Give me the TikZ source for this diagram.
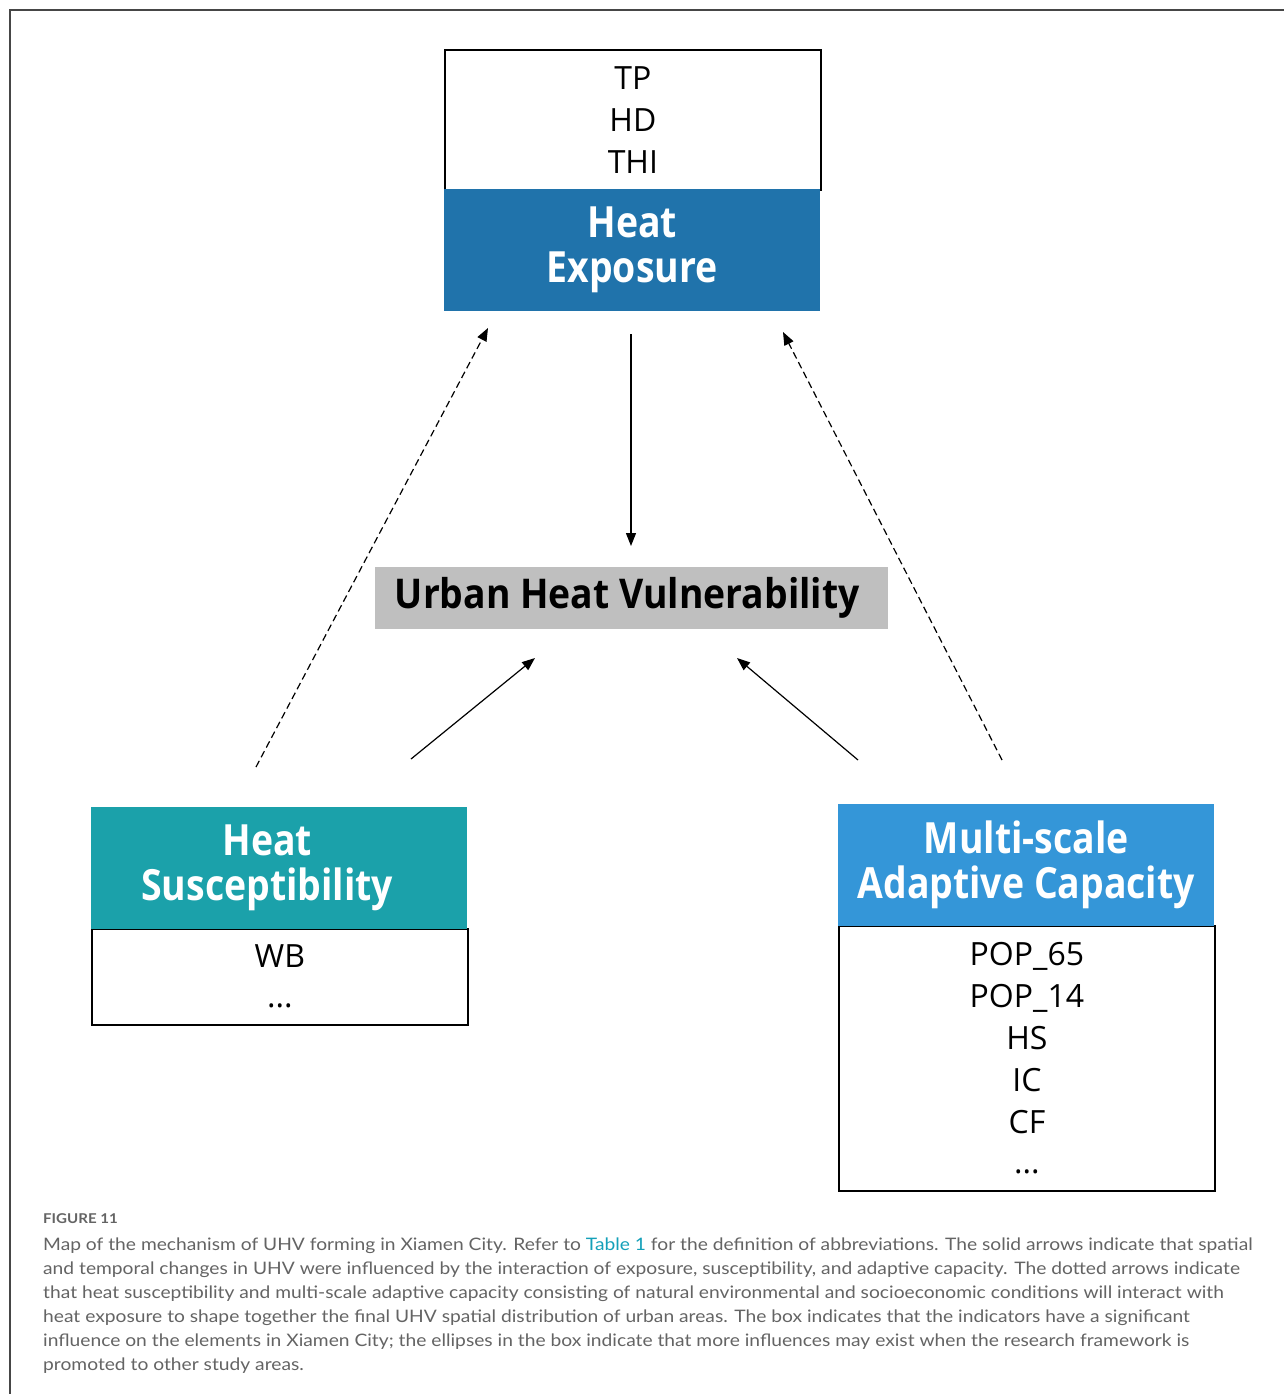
\documentclass[tikz,border=0pt]{standalone}
\usepackage{fontspec}
\setmainfont{Open Sans}
\newfontfamily\hdrfont{Open Sans}[FakeStretch=0.87]
\newfontfamily\uhvfont{Open Sans}[FakeStretch=0.91]
\newfontfamily\capfont{Lato}[FakeStretch=1.117]
\usetikzlibrary{arrows.meta}
\definecolor{expblue}{RGB}{32,115,171}
\definecolor{sustea}{RGB}{27,161,170}
\definecolor{capblue}{RGB}{52,150,216}
\definecolor{uhvgray}{RGB}{191,191,191}
\definecolor{captxt}{RGB}{100,100,100}
\definecolor{linkteal}{RGB}{20,160,185}
\definecolor{framegray}{RGB}{70,70,70}
\begin{document}
\begin{tikzpicture}[x=1pt,y=-1pt,
  hdrbox/.style={rectangle, inner sep=0pt, minimum width=376, minimum height=122, anchor=north west,
     text=white, align=center, font=\hdrfont\fontsize{43}{45}\selectfont\bfseries},
  listbox/.style={rectangle, draw=black, line width=1.8pt, inner sep=0pt, minimum width=376, anchor=north west,
     align=center, font=\fontsize{32}{42}\selectfont},
  solidarr/.style={line width=1.2pt, -{Triangle[length=13pt,width=10pt]}},
  dasharr/.style={line width=1.2pt, dash pattern=on 7pt off 4pt, -{Triangle[length=13pt,width=10pt]}}
]
\useasboundingbox (0,0) rectangle (1284,1394);
\fill[white] (0,0) rectangle (1284,1394);
% frame
\draw[framegray, line width=2pt] (1284,10) -- (10,10) -- (10,1394);

% Heat exposure
\node[listbox, minimum height=140] (explist) at (444,49) {TP\\HD\\THI};
\node[hdrbox, fill=expblue] (exphdr) at (444,189) {Heat\\Exposure};

% UHV
\node[rectangle, fill=uhvgray, inner sep=0pt, minimum width=513, minimum height=62, anchor=north west,
  font=\uhvfont\fontsize{41}{42}\selectfont\bfseries] (uhv) at (375,567) {Urban Heat Vulnerability\hspace*{9pt}};

% Heat susceptibility
\node[listbox, minimum height=96] (suslist) at (91,928) {WB\\\raisebox{2pt}{...}};
\node[hdrbox, fill=sustea] (sushdr) at (91,807) {Heat\hspace*{24pt}\\Susceptibility\hspace*{24pt}};

% Adaptive capacity
\node[listbox, minimum height=265] (caplist) at (838,925) {POP\_65\\POP\_14\\HS\\IC\\CF\\\raisebox{2pt}{...}};
\node[hdrbox, fill=capblue] (caphdr) at (838,804) {Multi-scale\\Adaptive Capacity};

% arrow end points
\coordinate (a1s) at (631,334);  \coordinate (a1e) at (631,546);
\coordinate (a2s) at (411,759);  \coordinate (a2e) at (535,658);
\coordinate (a3s) at (858,760);  \coordinate (a3e) at (737,658);
\coordinate (d1s) at (256,767);  \coordinate (d1e) at (488,328);
\coordinate (d2s) at (1002,760); \coordinate (d2e) at (783,332);

\draw[solidarr] (a1s) -- (a1e);
\draw[solidarr] (a2s) -- (a2e);
\draw[solidarr] (a3s) -- (a3e);
\draw[dasharr] (d1s) -- (d1e);
\draw[dasharr] (d2s) -- (d2e);

% caption
\node[anchor=south west, inner sep=0pt, text=captxt, font=\capfont\fontsize{13.5}{15}\selectfont\bfseries] (figlbl) at (43,1224) {FIGURE 11};
\node[anchor=north west, inner sep=0pt, align=left, text=captxt, font=\capfont\fontsize{17.2}{24}\selectfont] (caption) at (43,1238)
{Map of the mechanism of UHV forming in Xiamen City. Refer to \textcolor{linkteal}{Table 1} for the definition of abbreviations. The solid arrows indicate that spatial\\
and temporal changes in UHV were influenced by the interaction of exposure, susceptibility, and adaptive capacity. The dotted arrows indicate\\
that heat susceptibility and multi-scale adaptive capacity consisting of natural environmental and socioeconomic conditions will interact with\\
heat exposure to shape together the final UHV spatial distribution of urban areas. The box indicates that the indicators have a significant\\
influence on the elements in Xiamen City; the ellipses in the box indicate that more influences may exist when the research framework is\\
promoted to other study areas.};
\end{tikzpicture}
\end{document}
